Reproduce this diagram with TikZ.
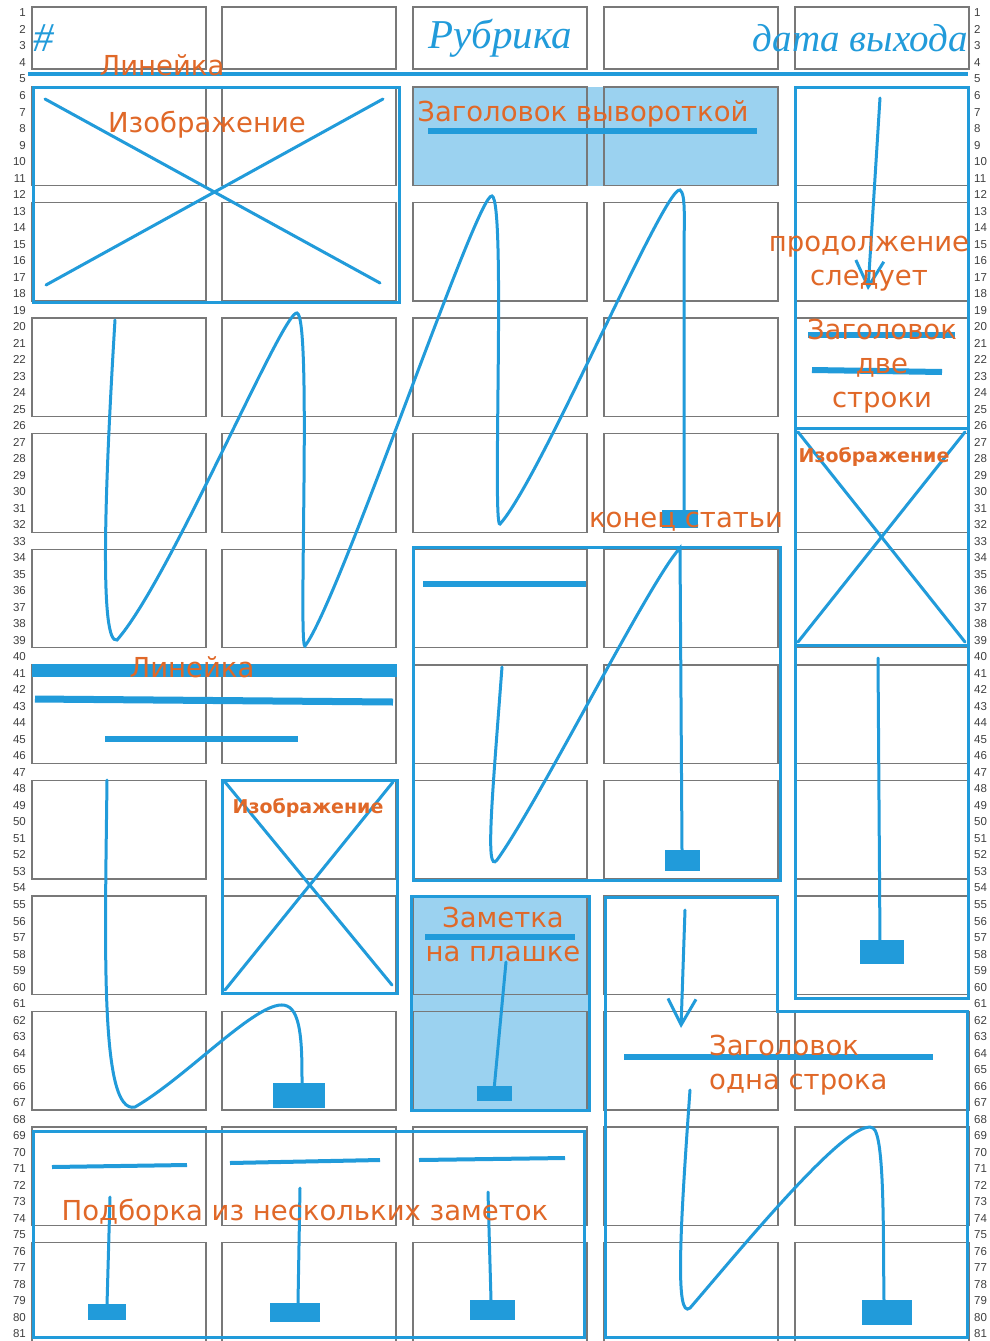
\documentclass[tikz,border=0pt]{standalone}
\usepackage{fontspec}
\setmainfont{DejaVu Sans}
\newfontfamily\numfont{Liberation Sans}
\newfontfamily\titlefont{Liberation Serif}
\usetikzlibrary{arrows.meta}
\definecolor{pen}{RGB}{33,155,218}
\definecolor{rust}{RGB}{224,104,40}
\definecolor{plate}{RGB}{155,210,240}
\definecolor{cellgray}{RGB}{120,120,120}

\begin{document}
\begin{tikzpicture}[
  x=1pt, y=-1pt,
  cell/.style={draw=cellgray, line width=1.3pt},
  zone/.style={draw=pen, line width=3pt},
  flow/.style={draw=pen, line width=3pt, line cap=round},
  rulebar/.style={draw=pen, line width=6pt},
  endmark/.style={fill=pen},
  nextarrow/.style={flow, -{Straight Barb[length=26pt, width=28pt]}},
  note/.style={text=rust, inner sep=0pt, align=center, yshift=-3pt, font=\fontsize{27.5}{34}\selectfont},
  smallnote/.style={note, font=\bfseries\fontsize{19}{23}\selectfont},
  rownum/.style={inner sep=0pt, text=black!75, font=\numfont\fontsize{11.5}{11.5}\selectfont},
  masthead/.style={text=pen, inner sep=0pt, font=\titlefont\itshape\fontsize{41}{43}\selectfont}
]
\fill[white] (0,0) rectangle (990,1341);
\useasboundingbox (0,0) rectangle (990,1341);

% plates under the grid
\fill[plate] (413,87) rectangle (778,186);
\fill[plate] (411,896) rectangle (589,1110);

% grid of modules
\foreach \c in {32,222,413,604,795} {
  \draw[cell] (\c,7) rectangle ++(174,62);
  \foreach \k in {0,...,10}
    \draw[cell] (\c,87+115.57*\k) rectangle ++(174,98.5);
}

% row numbers
\foreach \r in {1,...,81} {
  \node[rownum, anchor=east] (numL\r) at (26,13+16.51*\r-16.51) {\r};
  \node[rownum, anchor=west] (numR\r) at (974,13+16.51*\r-16.51) {\r};
}

% masthead
\node[masthead] (hash) at (44,38) {\#};
\node[masthead] (rubric) at (500,38) {Рубрика};
\node[masthead, anchor=east, font=\titlefont\itshape\fontsize{39}{41}\selectfont] (issuedate) at (968,38) {дата выхода};
\draw[pen, line width=4pt] (28,74) -- (968,74);
\node[note] (ruleTop) at (162,62) {Линейка};

% big image
\draw[zone] (33,87) rectangle (399,302);
\draw[flow] (45,99) -- (380,283);
\draw[flow] (46,285) -- (383,99);
\node[note] (imgTop) at (207,122) {Изображение};

% inverse headline
\draw[rulebar] (428,131) -- (757,131);
\node[note] (headInverse) at (583,111) {Заголовок вывороткой};

% main article flow
\draw[flow] (115,320) .. controls (104,500) and (100,645) .. (117,640)
  .. controls (170,580) and (283,310) .. (297,313)
  .. controls (312,316) and (298,650) .. (305,646)
  .. controls (340,600) and (478,190) .. (492,196)
  .. controls (506,200) and (492,530) .. (500,524)
  .. controls (540,480) and (665,185) .. (680,190)
  .. controls (686,194) and (684,220) .. (684,260) -- (684,512);
\fill[endmark] (662,510) rectangle (698,528);
\node[note] (articleEnd) at (686,519) {конец статьи};

% right column
\draw[zone] (795,87) rectangle (968,998);
\draw[nextarrow] (880,98) -- (868,290);
\node[note] (contNote) at (869,261) {продолжение\\следует};
\draw[rulebar] (808,335) -- (955,335);
\draw[rulebar] (812,370) -- (942,372);
\node[note] (headTwo) at (882,363) {Заголовок\\две\\строки};
\draw[zone] (795,428) rectangle (968,645);
\draw[flow] (798,432) -- (965,642);
\draw[flow] (965,432) -- (798,642);
\node[smallnote] (imgRight) at (874,454) {Изображение};
\draw[flow] (878,658) -- (880,945);
\fill[endmark] (860,940) rectangle (904,964);

% second article
\draw[zone] (413,547) rectangle (780,880);
\draw[rulebar] (423,584) -- (586,584);
\draw[flow] (502,667) .. controls (492,800) and (485,875) .. (497,860)
  .. controls (540,800) and (650,580) .. (680,548) -- (682,850);
\fill[endmark] (665,850) rectangle (700,871);

% rules on the left
\draw[pen, line width=13pt] (32,670) -- (397,670);
\node[note] (ruleMid) at (192,664) {Линейка};
\draw[pen, line width=7pt] (35,699) -- (393,702);
\draw[rulebar] (105,739) -- (298,739);

% small image
\draw[zone] (222,780) rectangle (397,993);
\draw[flow] (225,782) -- (392,985);
\draw[flow] (393,782) -- (225,990);
\node[smallnote] (imgMid) at (308,805) {Изображение};

% third article
\draw[flow] (107,780) .. controls (105,950) and (100,1115) .. (135,1107)
  .. controls (190,1075) and (262,995) .. (287,1006)
  .. controls (302,1012) and (302,1050) .. (302,1083);
\fill[endmark] (273,1083) rectangle (325,1108);

% note on plate
\draw[zone] (411,896) rectangle (589,1110);
\draw[rulebar] (425,937) -- (575,937);
\node[note] (plateNote) at (503,931) {Заметка\\на плашке};
\draw[flow] (506,962) -- (494,1090);
\fill[endmark] (477,1086) rectangle (512,1101);

% one-line headline article
\draw[zone] (605,897) -- (777,897) -- (777,1011) -- (967,1011) -- (967,1337) -- (605,1337) -- cycle;
\draw[nextarrow] (685,910) -- (681,1028);
\draw[rulebar] (624,1057) -- (933,1057);
\node[note, anchor=west, align=left] (headOne) at (709,1062) {Заголовок\\одна строка};
\draw[flow] (690,1090) .. controls (680,1230) and (675,1320) .. (690,1308)
  .. controls (740,1250) and (850,1115) .. (873,1128)
  .. controls (885,1135) and (883,1240) .. (884,1300);
\fill[endmark] (862,1300) rectangle (912,1325);

% digest
\draw[zone] (33,1131) rectangle (584,1337);
\draw[pen, line width=4pt] (52,1167) -- (187,1165);
\draw[pen, line width=4pt] (230,1163) -- (380,1160);
\draw[pen, line width=4pt] (419,1160) -- (565,1158);
\draw[flow] (110,1197) -- (107,1305);
\draw[flow] (300,1188) -- (298,1303);
\draw[flow] (488,1192) -- (491,1300);
\fill[endmark] (88,1304) rectangle (126,1320);
\fill[endmark] (270,1303) rectangle (320,1322);
\fill[endmark] (470,1300) rectangle (515,1320);
\node[note] (digest) at (305,1210) {Подборка из нескольких заметок};
\end{tikzpicture}
\end{document}
